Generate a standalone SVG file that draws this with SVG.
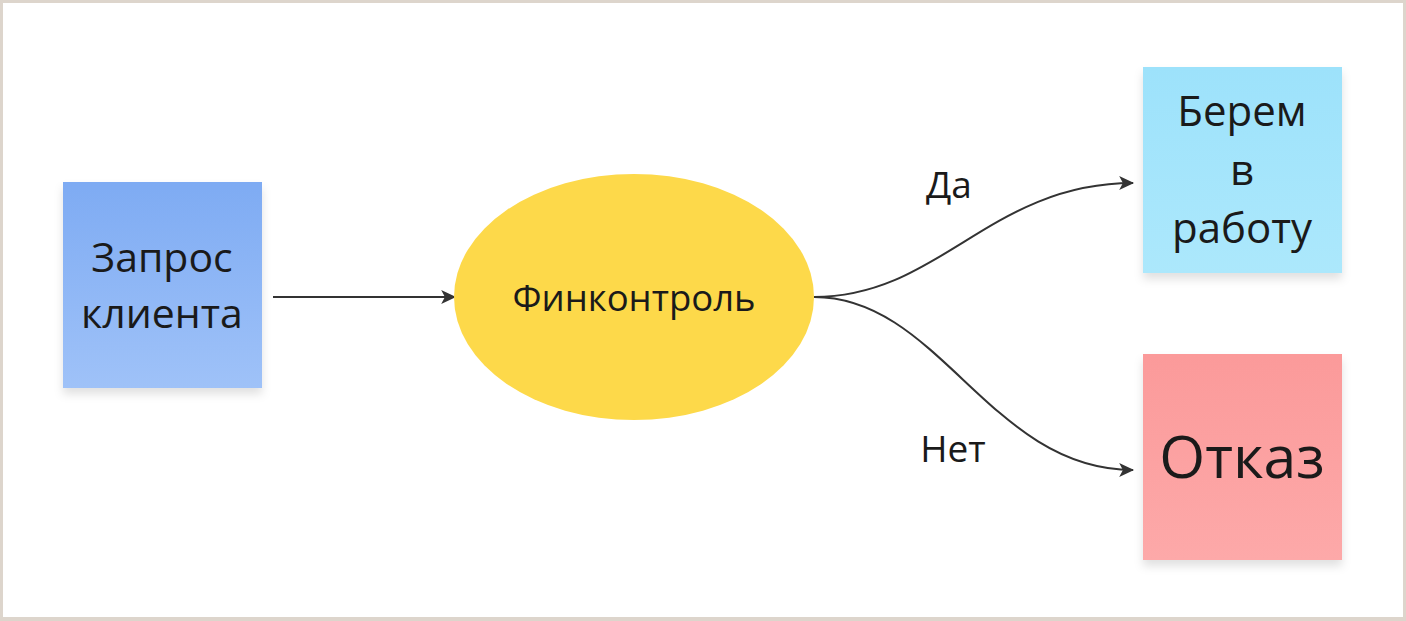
<svg xmlns="http://www.w3.org/2000/svg" width="1406" height="621" viewBox="0 0 1406 621">
<style>
.lbl{font-family:"Open Sans","Noto Sans",sans-serif;fill:#1a1a1a;text-anchor:middle}
.conn{fill:none;stroke:#333;stroke-width:2}
</style>
<defs>
<marker id="arr" viewBox="0 0 16 16" refX="14" refY="8" markerWidth="17" markerHeight="17" markerUnits="userSpaceOnUse" orient="auto">
<path d="M1,1.5 L15,8 L1,14.5 L4.5,8 Z" fill="#333"/>
</marker>
<linearGradient id="gBlue" x1="0" y1="0" x2="0" y2="1"><stop offset="0" stop-color="#7eabf3"/><stop offset="1" stop-color="#9fc2f8"/></linearGradient>
<linearGradient id="gCyan" x1="0" y1="0" x2="0" y2="1"><stop offset="0" stop-color="#9de2fb"/><stop offset="1" stop-color="#ace8fc"/></linearGradient>
<linearGradient id="gPink" x1="0" y1="0" x2="0" y2="1"><stop offset="0" stop-color="#fb9a9a"/><stop offset="1" stop-color="#fda9a9"/></linearGradient>
<filter id="sh" x="-20%" y="-20%" width="140%" height="150%"><feDropShadow dx="0" dy="6" stdDeviation="5" flood-color="#000" flood-opacity="0.12"/></filter>
</defs>
<rect x="0" y="0" width="1406" height="621" fill="#ddd5cc"/>
<rect x="3" y="3" width="1400" height="614" fill="#ffffff"/>
<g id="connectors">
<path class="conn" d="M273,297 L455,297" marker-end="url(#arr)"/>
<path class="conn" d="M814,297 C940,297 990,183 1133,183" marker-end="url(#arr)"/>
<path class="conn" d="M814,297 C940,297 990,470 1133,470" marker-end="url(#arr)"/>
<text class="lbl" x="949" y="198" font-size="37">Да</text>
<text class="lbl" x="953" y="462" font-size="37">Нет</text>
</g>
<g id="node-request">
<rect x="63" y="182" width="199" height="206" fill="url(#gBlue)" filter="url(#sh)"/>
<text class="lbl" x="162" y="272" font-size="41">Запрос</text>
<text class="lbl" x="162" y="328" font-size="41">клиента</text>
</g>
<g id="node-fincontrol">
<ellipse cx="634" cy="297" rx="180" ry="123" fill="#fdd94a"/>
<text class="lbl" x="634" y="311" font-size="36.5">Финконтроль</text>
</g>
<g id="node-work">
<rect x="1143" y="67" width="199" height="206" fill="url(#gCyan)" filter="url(#sh)"/>
<text class="lbl" x="1242" y="126" font-size="42">Берем</text>
<text class="lbl" x="1242" y="185" font-size="42">в</text>
<text class="lbl" x="1242" y="243" font-size="42">работу</text>
</g>
<g id="node-refuse">
<rect x="1143" y="354" width="199" height="206" fill="url(#gPink)" filter="url(#sh)"/>
<text class="lbl" x="1242" y="478" font-size="59">Отказ</text>
</g>
</svg>
